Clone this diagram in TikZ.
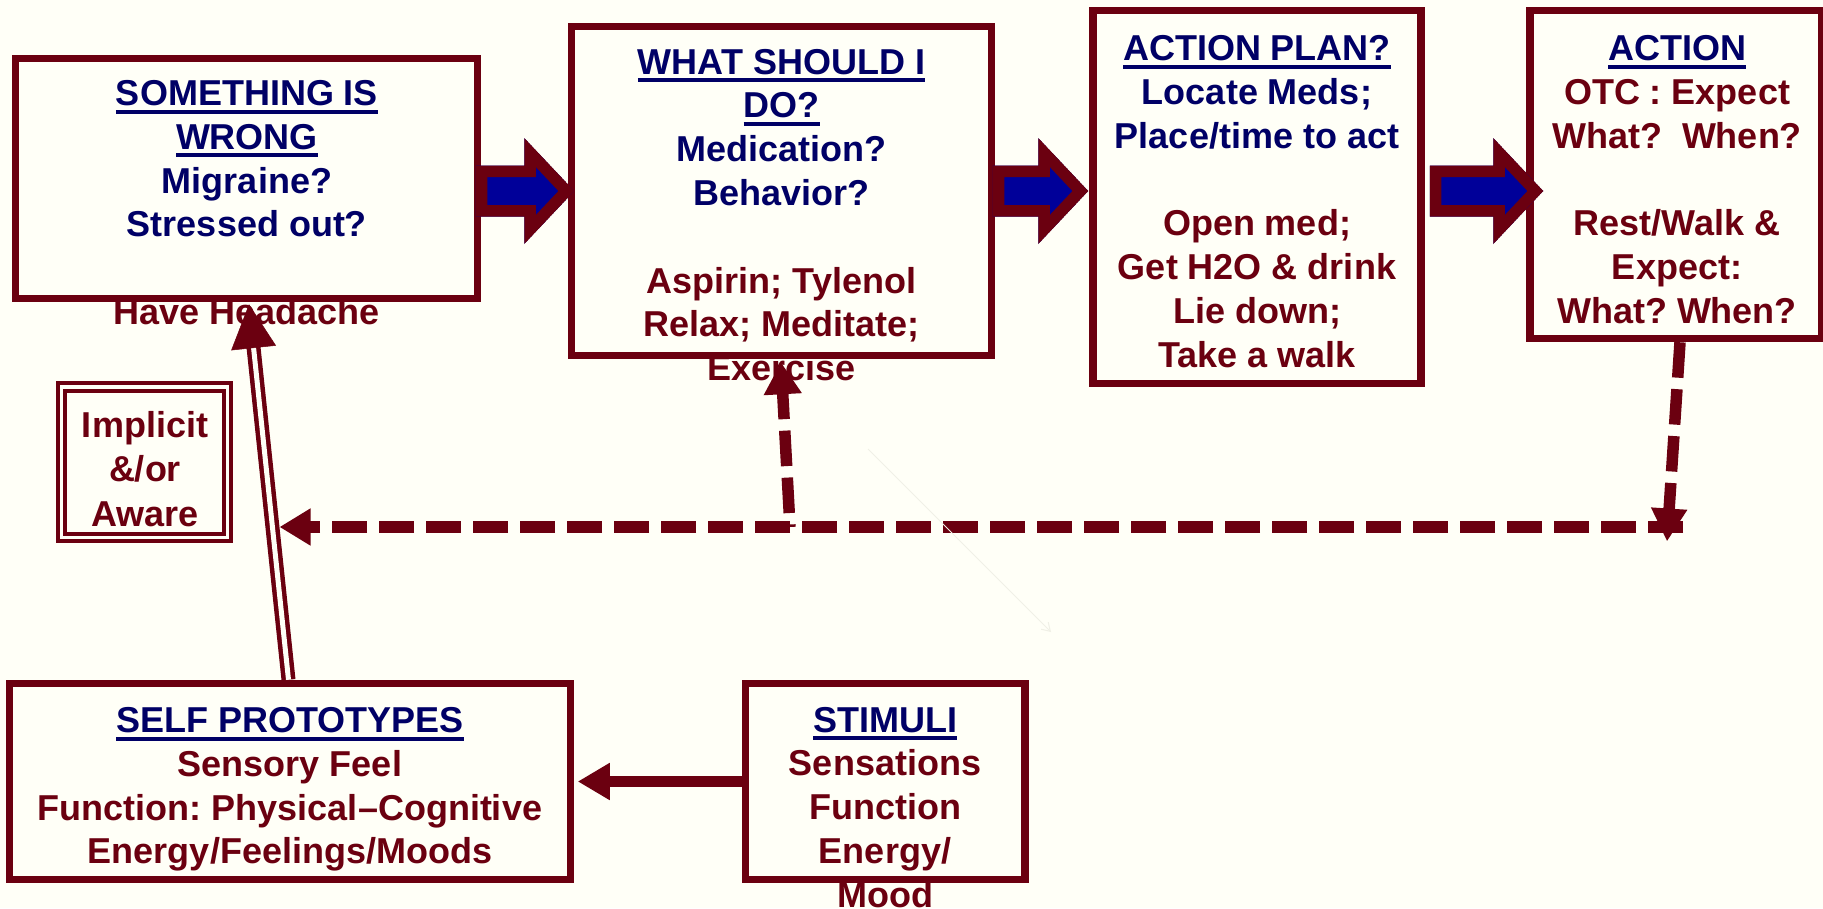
\documentclass[tikz,border=0pt]{standalone}
\usepackage{fontspec}
\setmainfont{Liberation Sans}
\usetikzlibrary{arrows.meta,calc}

\definecolor{bg}{HTML}{FFFFF7}
\definecolor{mar}{HTML}{6B0010}
\definecolor{nav}{HTML}{000066}
\definecolor{ablue}{HTML}{000099}
\definecolor{faint}{HTML}{F0F0E6}

% underlined navy heading
\newcommand\ttl[1]{{\color{nav}\setbox0\hbox{#1}\rlap{\rule[-8pt]{\wd0}{4pt}}\box0}}
\newcommand\nv[1]{{\color{nav}#1}}
\newcommand\mr[1]{{\color{mar}#1}}
% centred lines, baseline at the first line
\newcommand\stack[1]{\begin{tabular}[t]{@{}c@{}}#1\end{tabular}}

% fat blue arrow with a maroon rim between two boxes
% #1 from node, #2 to node, #3 start offset, #4 tip offset
\newcommand\blockarrow[4]{%
  \path let \p1=(#1.east |- 0,191), \p2=(#2.west |- 0,191) in
    ({\x1+(#3)},{\y1+25.5pt}) coordinate (ba-a)
    ({\x2+(#4)-50pt},{\y1+25.5pt}) coordinate (ba-b)
    ({\x2+(#4)-50pt},{\y1+53pt}) coordinate (ba-c)
    ({\x2+(#4)},{\y1}) coordinate (ba-d)
    ({\x2+(#4)-50pt},{\y1-53pt}) coordinate (ba-e)
    ({\x2+(#4)-50pt},{\y1-25.5pt}) coordinate (ba-f)
    ({\x1+(#3)},{\y1-25.5pt}) coordinate (ba-g);
  \begin{scope}
    \clip (ba-a)--(ba-b)--(ba-c)--(ba-d)--(ba-e)--(ba-f)--(ba-g)--cycle;
    \fill[ablue] (ba-a)--(ba-b)--(ba-c)--(ba-d)--(ba-e)--(ba-f)--(ba-g)--cycle;
    \draw[mar, line width=23pt, line join=miter, miter limit=20]
      (ba-a)--(ba-b)--(ba-c)--(ba-d)--(ba-e)--(ba-f)--(ba-g)--cycle;
  \end{scope}}

\begin{document}
\frenchspacing
\begin{tikzpicture}[x=1pt,y=-1pt,
  box/.style={draw=mar, line width=7.5pt, fill=bg, inner sep=0pt},
  txt/.style={anchor=base, inner sep=0pt, font=\fontsize{36pt}{43.8pt}\selectfont\bfseries},
  dasharrow/.style={draw=mar, line width=11.5pt, dash pattern=on 35.5pt off 11.5pt},
]
\fill[bg] (0,0) rectangle (1823,908);
\useasboundingbox (0,0) rectangle (1823,908);

% boxes
\node[box, minimum width=462pt, minimum height=240pt] (b1) at (246.5,178.5) {};
\node[box, minimum width=420pt, minimum height=329pt] (b2) at (781.5,191) {};
\node[box, minimum width=328pt, minimum height=373pt] (b3) at (1257,197) {};
\node[box, minimum width=292pt, minimum height=328pt] (b4) at (1676,174.5) {};
\node[box, minimum width=561pt, minimum height=196pt] (self) at (290,781.5) {};
\node[box, minimum width=279.5pt, minimum height=196pt] (stim) at (885,781.5) {};
\node[draw=mar, double=bg, double distance=3.5pt, line width=4pt, fill=bg,
      inner sep=0pt, minimum width=166pt, minimum height=150.5pt] (impl) at (144.25,462) {};

% texts
\node[txt] (b1t) at (247,105.5) {\stack{\ttl{SOMETHING IS}\\\ttl{WRONG}\\\nv{Migraine?}\\\nv{Stressed out?}\\ \\\mr{Have Headache}}};
\node[txt] (b2t) at (781.5,74) {\stack{\ttl{WHAT SHOULD I}\\\ttl{DO?}\\\nv{Medication?}\\\nv{Behavior?}\\ \\\mr{Aspirin; Tylenol}\\\mr{Relax; Meditate;}\\\mr{Exercise}}};
\node[txt] (b3t) at (1257,60.5) {\stack{\ttl{ACTION PLAN?}\\\nv{Locate Meds;}\\\nv{Place/time to act}\\ \\\mr{Open med;}\\\mr{Get H2O \& drink}\\\mr{Lie down;}\\\mr{Take a walk}}};
\node[txt] (b4t) at (1677,60.5) {\stack{\ttl{ACTION}\\\mr{OTC : Expect}\\\mr{What?\ \ When?}\\ \\\mr{Rest/Walk \&}\\\mr{Expect:}\\\mr{What? When?}}};
\node[txt] (selft) at (290,732.5) {\stack{\ttl{SELF PROTOTYPES}\\\mr{Sensory Feel}\\\mr{Function: Physical–Cognitive}\\\mr{Energy/Feelings/Moods}}};
\node[txt] (stimt) at (885,732) {\stack{\ttl{STIMULI}\\\mr{Sensations}\\\mr{Function}\\\mr{Energy/}\\\mr{Mood}}};
\node[txt, font=\fontsize{36pt}{44.5pt}\selectfont\bfseries] (implt) at (145,437) {\stack{\mr{Implicit}\\\mr{\&/or}\\\mr{Aware}}};

% fat arrows along the top row
\blockarrow{b1}{b2}{-5.5pt}{6.5pt}
\blockarrow{b2}{b3}{-2.5pt}{-1pt}
\blockarrow{b3}{b4}{5pt}{17pt}

% double line from self prototypes up to the first box
\coordinate (sp) at ($(self.north)+(-1.5,0)$);
\coordinate (hd) at ($(b1.south)+(2.5,2)$);
\draw[mar, line width=4.5pt, double=bg, double distance=5pt, shorten >=42pt] (sp) -- (hd);
\draw[bg, line width=0.5pt, -{Triangle[length=44pt,width=45pt,color=mar]}] ($(hd)!50pt!(sp)$) -- (hd);

% stimuli feed the self prototypes
\draw[mar, line width=11pt, -{Triangle[length=32pt,width=35pt]}] (stim.west) -- ([xshift=3.5pt]self.east);

% dashed feedback loop
\coordinate (fr) at (1683,527);
\coordinate (fl) at (279.5,527);
\coordinate (fu) at (790,527);
\coordinate (fd) at (1667,541.5);
\draw[dasharrow, -{Triangle[length=31pt,width=35pt]}] (fr) -- (fl);
\draw[dasharrow, dash phase=33pt, -{Triangle[length=32pt,width=36pt]}] (fu) -- ($(b2.south)+(-0.5,3)$);
\draw[dasharrow, -{Triangle[length=33pt,width=34pt]}] (b4.south -| 1680,0) -- (fd);

% faint stray pointer
\coordinate (fa1) at (868,449);
\coordinate (fa2) at (1051,632);
\draw[faint, line width=1pt, -{Straight Barb[length=8pt,width=10pt]}] (fa1) -- (fa2);
\end{tikzpicture}
\end{document}
